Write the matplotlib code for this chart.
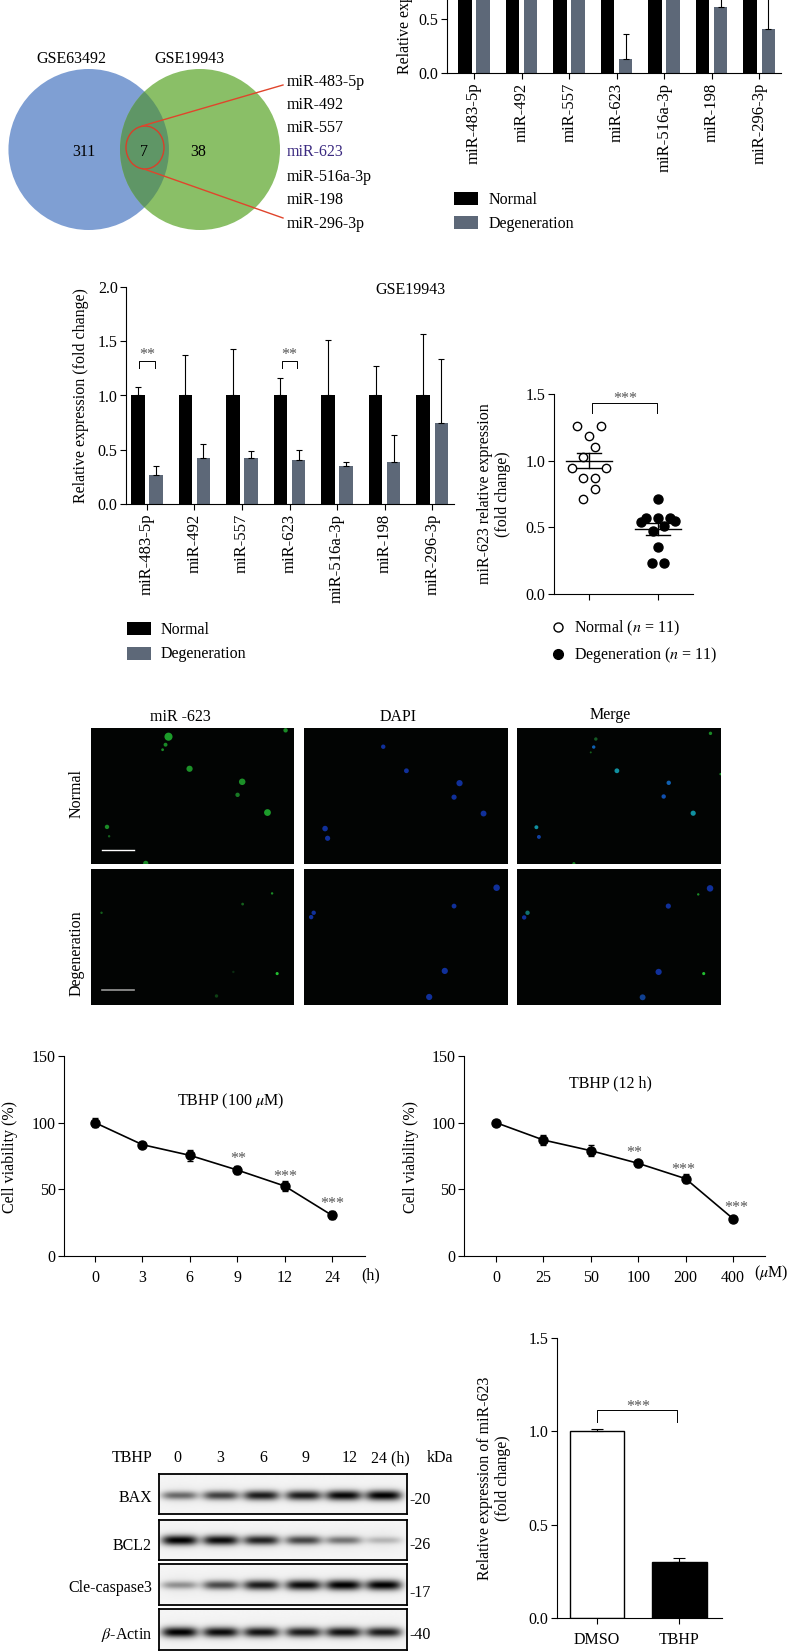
import numpy as np
import matplotlib
matplotlib.use('Agg')
import matplotlib.pyplot as plt
from matplotlib.patches import Ellipse, Rectangle

plt.rcParams['font.family'] = ['Liberation Serif', 'DejaVu Serif']
plt.rcParams['mathtext.fontset'] = 'stix'
plt.rcParams['font.size'] = 11.5
plt.rcParams['axes.linewidth'] = 0.8
plt.rcParams['xtick.major.width'] = 0.8
plt.rcParams['ytick.major.width'] = 0.8
plt.rcParams['xtick.major.size'] = 4
plt.rcParams['ytick.major.size'] = 4

W, H = 787, 1651
GREY = '#5D6878'

mirnas = ['miR-483-5p', 'miR-492', 'miR-557', 'miR-623', 'miR-516a-3p', 'miR-198', 'miR-296-3p']
venn_counts = ['311', '7', '38']

# top bars, cropped by the page: only the low part can be read
gse63492_normal = [1, 1, 1, 1, 1, 1, 1]
gse63492_normal_err = [0.2, 0.2, 0.2, 0.2, 0.2, 0.2, 0.2]
gse63492_degen = [0.8, 0.85, 0.75, 0.13, 0.9, 0.61, 0.41]
gse63492_degen_err = [0.2, 0.2, 0.2, 0.23, 0.2, 0.25, 0.6]

gse19943_normal = [1, 1, 1, 1, 1, 1, 1]
gse19943_normal_err = [0.08, 0.37, 0.43, 0.16, 0.51, 0.27, 0.57]
gse19943_degen = [0.27, 0.42, 0.42, 0.41, 0.35, 0.39, 0.75]
gse19943_degen_err = [0.08, 0.13, 0.07, 0.09, 0.04, 0.25, 0.59]

scatter_normal_x = [0.83, 1.18, 1.0, 1.09, 0.91, 0.75, 1.25, 0.91, 1.09, 1.09, 0.91]
scatter_normal_y = [1.26, 1.26, 1.185, 1.105, 1.025, 0.945, 0.945, 0.87, 0.87, 0.79, 0.71]
scatter_degen_x = [2.0, 1.83, 2.0, 2.18, 1.76, 2.25, 2.09, 1.93, 2.0, 1.92, 2.09]
scatter_degen_y = [0.71, 0.57, 0.57, 0.57, 0.54, 0.55, 0.51, 0.47, 0.35, 0.23, 0.23]
scatter_mean = [1.0, 0.485]
scatter_sem = [0.058, 0.045]

# microscope spots: x, y, size, colour
ni_green = [(234, 110, 34, '#1C9C2A'), (227, 134, 8, '#1A8A26'), (220, 149, 4, '#1A8A26'),
            (284, 206, 20, '#1C9028'), (409, 245, 22, '#1C9028'), (398, 284, 10, '#187A24'),
            (469, 337, 24, '#1C9C2A'), (88, 380, 10, '#1A8A26'), (93, 408, 3, '#14601C'),
            (512, 91, 10, '#1A8A26'), (180, 489, 14, '#1A8A26')]
ni_blue = [(744, 140, 10, '#10309A'), (799, 212, 12, '#10309A'), (925, 249, 20, '#10309A'),
           (912, 291, 14, '#10309A'), (982, 340, 18, '#10309A'), (606, 385, 16, '#10309A'),
           (612, 414, 14, '#10309A')]
ni_merge = [(1249, 117, 6, '#145A24'), (1521, 100, 6, '#1A8A26'), (1237, 157, 2, '#14601C'),
            (1545, 222, 3, '#1A8A26'), (1244, 141, 6, '#1060B0'), (1299, 212, 12, '#1090A0'),
            (1422, 248, 10, '#1060B0'), (1410, 289, 10, '#1050B0'), (1480, 339, 14, '#1090A0'),
            (1108, 381, 8, '#1090A0'), (1114, 410, 8, '#1040A0'), (1197, 490, 5, '#1A8A26')]
de_green = [(480, 580, 3, '#1A8A26'), (410, 612, 4, '#14601C'), (75, 638, 3, '#14601C'),
            (492, 820, 5, '#22C030'), (348, 887, 6, '#0E4014'), (388, 815, 3, '#0A2C10')]
de_blue = [(1013, 563, 22, '#10309A'), (912, 618, 12, '#10309A'), (579, 638, 10, '#10309A'),
           (573, 651, 10, '#10309A'), (890, 812, 20, '#10309A'), (853, 890, 20, '#10309A')]
de_merge = [(1520, 565, 22, '#10309A'), (1421, 618, 14, '#10309A'), (1079, 652, 10, '#10309A'),
            (1087, 638, 10, '#107070'), (1398, 815, 20, '#10309A'), (1360, 891, 18, '#104090'),
            (1492, 583, 3, '#1A8A26'), (1505, 820, 5, '#22C030')]

hours = ['0', '3', '6', '9', '12', '24']
viability_h = [100, 83.5, 75.5, 64.5, 52.5, 30.5]
viability_h_err = [3.5, 2, 4, 3, 3.5, 3]
doses = ['0', '25', '50', '100', '200', '400']
viability_d = [100, 87, 79, 69.5, 58, 28]
viability_d_err = [2, 3.5, 4, 2.5, 3.5, 1.5]

blot_names = ['BAX', 'BCL2', 'Cle-caspase3', r'$\beta$-Actin']
blot_kda = ['-20', '-26', '-17', '-40']
blot_bax = [0.55, 0.72, 0.88, 0.88, 0.97, 1.0]
blot_bcl2 = [1.0, 0.95, 0.85, 0.7, 0.5, 0.22]
blot_casp = [0.38, 0.68, 0.88, 0.95, 1.0, 1.0]
blot_actin = [1.0, 0.95, 0.92, 0.88, 0.92, 0.88]

dmso_tbhp = ['DMSO', 'TBHP']
mir623_expr = [1.0, 0.30]
mir623_err = [0.01, 0.02]

fig = plt.figure(figsize=(W / 100, H / 100), dpi=100)


def px_axes(x0, x1, ytop, ybot):
    ax = fig.add_axes([x0 / W, 1 - ybot / H, (x1 - x0) / W, (ybot - ytop) / H])
    ax.spines['top'].set_visible(False)
    ax.spines['right'].set_visible(False)
    ax.patch.set_alpha(0)
    return ax


# overlay in picture pixels, for the free text and the venn
ov = fig.add_axes([0, 0, 1, 1], zorder=5)
ov.set_xlim(0, W)
ov.set_ylim(H, 0)
ov.axis('off')


def label(x, y, s, **kw):
    kw.setdefault('ha', 'center')
    kw.setdefault('va', 'center')
    ov.text(x, y, s, **kw)


def stars(x, y, s):
    label(x, y + 3, s, color='#555555', fontsize=11.5)


def bar_legend(x0, x1, y1, y2, xt):
    for y, c, s in ((y1, 'black', 'Normal'), (y2, GREY, 'Degeneration')):
        ov.add_patch(Rectangle((x0, y - 6.5), x1 - x0, 13, color=c, lw=0))
        label(xt, y + 1, s, ha='left')


def group_bars(ax, normal, nerr, degen, derr):
    x = np.arange(len(mirnas))
    ax.bar(x - 0.19, normal, 0.28, color='black', yerr=[np.zeros(7), nerr],
           error_kw=dict(ecolor='black', elinewidth=0.8, capsize=2, capthick=0.8))
    ax.bar(x + 0.19, degen, 0.28, color=GREY, yerr=[np.zeros(7), derr],
           error_kw=dict(ecolor='black', elinewidth=0.8, capsize=2, capthick=0.8))
    ax.set_xticks(x)
    ax.set_xticklabels(mirnas, rotation=90, fontsize=12)
    ax.set_yticks([0, 0.5, 1.0, 1.5, 2.0])
    ax.set_yticklabels(['0.0', '0.5', '1.0', '1.5', '2.0'])
    ax.set_ylim(0, 2)
    ax.tick_params(axis='x', pad=3)
    ax.tick_params(axis='y', pad=2)


#=========================
# venn
#=========================
blue = Ellipse((88.7, 149.5), 160.5, 161, color='#7F9FD3', lw=0)
green = Ellipse((200, 149.5), 160, 161, color='#8ABF67', lw=0)
ov.add_patch(blue)
ov.add_patch(green)
lens = Ellipse((200, 149.5), 160, 161, color='#5F9666', lw=0)
ov.add_patch(lens)
lens.set_clip_path(blue)
ov.add_patch(Ellipse((145, 147.5), 38, 43, fill=False, ec='#D8402A', lw=1))
ov.plot([142, 283], [126, 85], color='#E0452C', lw=1)
ov.plot([144, 283], [169, 218], color='#E0452C', lw=1)
label(71, 59, 'GSE63492')
label(189, 59, 'GSE19943')
for x, s in zip((84, 144, 198), venn_counts):
    label(x, 152, s, color='black')
for y, s in zip((82, 105, 128, 152, 177, 200, 224), mirnas):
    label(287, y, s, ha='left', color='#3B2A80' if s == 'miR-623' else 'black')

#=========================
# GSE63492 bars, top is off the page
#=========================
ax1 = px_axes(447, 781, 73 - 216, 73)
group_bars(ax1, gse63492_normal, gse63492_normal_err, gse63492_degen, gse63492_degen_err)
ax1.set_xlim(-0.57, 6.46)
ax1.set_yticks([0, 0.5])
ax1.set_yticklabels(['0.0', '0.5'])
label(405, 74, 'Relative expression (fold change)', rotation=90, va='bottom')
bar_legend(454, 478, 198.5, 223, 489)

#=========================
# GSE19943 bars
#=========================
ax2 = px_axes(126, 454, 287, 504)
group_bars(ax2, gse19943_normal, gse19943_normal_err, gse19943_degen, gse19943_degen_err)
ax2.set_xlim(-0.44, 6.46)
ax2.set_ylabel('Relative expression (fold change)', labelpad=6)
for i in (0, 3):
    ax2.plot([i - 0.16, i - 0.16, i + 0.16, i + 0.16], [1.25, 1.32, 1.32, 1.25], color='black', lw=0.7)
    ax2.text(i, 1.37, '**', ha='center', va='center', color='#555555')
label(410.5, 290, 'GSE19943')
bar_legend(126.5, 151, 629, 653.5, 161)

#=========================
# scatter
#=========================
ax3 = px_axes(554, 693, 394, 594)
ax3.plot(scatter_normal_x, scatter_normal_y, 'o', mfc='white', mec='black', mew=1, ms=6)
ax3.plot(scatter_degen_x, scatter_degen_y, 'o', color='black', ms=6.5)
for i in range(2):
    ax3.plot([i + 0.67, i + 1.33], [scatter_mean[i]] * 2, color='black', lw=1)
    for v in (scatter_mean[i] + scatter_sem[i], scatter_mean[i] - scatter_sem[i]):
        ax3.plot([i + 0.83, i + 1.17], [v, v], color='black', lw=1)
    ax3.plot([i + 1, i + 1], [scatter_mean[i] - scatter_sem[i], scatter_mean[i] + scatter_sem[i]], color='black', lw=1)
ax3.plot([1.04, 1.04, 1.98, 1.98], [1.355, 1.43, 1.43, 1.355], color='black', lw=0.7)
ax3.text(1.53, 1.465, '***', ha='center', va='center', color='#555555')
ax3.set_xlim(0.493, 2.507)
ax3.set_ylim(0, 1.5)
ax3.set_xticks([1, 2])
ax3.set_xticklabels([])
ax3.set_yticks([0, 0.5, 1.0, 1.5])
ax3.set_yticklabels(['0.0', '0.5', '1.0', '1.5'])
ax3.tick_params(axis='y', pad=2)
label(494, 494, 'miR-623 relative expression\n(fold change)', rotation=90, ma='center', linespacing=1.1)
ov.plot([558], [627], 'o', mfc='white', mec='black', mew=1, ms=6.5)
ov.plot([558], [654], 'o', color='black', ms=7)
label(574.5, 628, r'Normal ($n$ = 11)', ha='left')
label(574.5, 655, r'Degeneration ($n$ = 11)', ha='left')

#=========================
# micrographs
#=========================
panels = [((91, 294, 728, 864), (50, 532, 491, 84), ni_green),
          ((304, 508, 728, 864), (556, 1040, 491, 84), ni_blue),
          ((517, 721, 728, 864), (1062, 1546, 491, 84), ni_merge),
          ((91, 294, 869, 1005), (50, 532, 914, 507), de_green),
          ((304, 508, 869, 1005), (556, 1040, 914, 507), de_blue),
          ((517, 721, 869, 1005), (1062, 1546, 914, 507), de_merge)]
for box, lims, spots in panels:
    a = fig.add_axes([box[0] / W, 1 - box[3] / H, (box[1] - box[0]) / W, (box[3] - box[2]) / H])
    a.set_facecolor('#020403')
    a.set_xlim(lims[0], lims[1])
    a.set_ylim(lims[2], lims[3])
    a.set_xticks([])
    a.set_yticks([])
    for s in a.spines.values():
        s.set_visible(False)
    a.scatter([p[0] for p in spots], [p[1] for p in spots], s=[p[2] for p in spots],
              c=[p[3] for p in spots], lw=0)
    if lims[3] == 84:
        a.plot([75, 152], [448, 448], color='white', lw=1)
    elif lims[0] == 50:
        a.plot([75, 152], [869, 869], color='#999999', lw=1.2)
label(180, 717, 'miR -623')
label(398, 717, 'DAPI')
label(610, 715, 'Merge')
label(77, 793, 'Normal', rotation=90)
label(77, 953, 'Degeneration', rotation=90)


#=========================
# viability lines
#=========================
def viability(box, labels, vals, errs, xleft, xright):
    ax = px_axes(*box)
    ax.errorbar(range(6), vals, yerr=errs, fmt='-o', color='black', lw=1.2, ms=6.5,
                elinewidth=1, capsize=2.5, capthick=1)
    ax.set_xlim(xleft, xright)
    ax.set_ylim(0, 150)
    ax.set_xticks(range(6))
    ax.set_xticklabels(labels)
    ax.set_yticks([0, 50, 100, 150])
    ax.tick_params(axis='x', pad=6)
    ax.tick_params(axis='y', pad=2)
    return ax


viability((64, 365, 1056, 1256), hours, viability_h, viability_h_err, -0.654, 5.696)
label(10, 1157, 'Cell viability (%)', rotation=90)
label(231, 1101, r'TBHP (100 $\mu$M)')
label(371, 1275, '(h)')
for x, y, s in ((238, 1156, '**'), (285, 1174, '***'), (332, 1201, '***')):
    stars(x, y, s)

viability((464, 765, 1056, 1256), doses, viability_d, viability_d_err, -0.675, 5.675)
label(411, 1157, 'Cell viability (%)', rotation=90)
label(610, 1083, 'TBHP (12 h)')
label(771, 1273, r'($\mu$M)')
for x, y, s in ((634, 1150, '**'), (683, 1167, '***'), (736, 1205, '***')):
    stars(x, y, s)

#=========================
# western blot
#=========================
blot_boxes = [(1474, 1514, 0.53), (1520, 1560, 0.5), (1564, 1605, 0.52), (1609, 1650, 0.57)]
blot_rows = [blot_bax, blot_bcl2, blot_casp, blot_actin]
lanes_px = [179.5, 220.5, 261, 303, 343, 383]
for (ytop, ybot, frac), row in zip(blot_boxes, blot_rows):
    a = fig.add_axes([159 / W, 1 - ybot / H, 247.5 / W, (ybot - ytop) / H])
    xx, yy = np.meshgrid(np.arange(159, 406.5, 0.5), np.arange(0, ybot - ytop, 0.5))
    img = np.full(xx.shape, 0.96)
    yc = frac * (ybot - ytop)
    for lane, amt in zip(lanes_px, row):
        img -= 0.92 * amt * np.exp(-((xx - lane) / 18) ** 4) * np.exp(-((yy - yc) / (3 + 2 * amt)) ** 2)
        img -= 0.05 * np.exp(-((xx - lane) / 20) ** 2) * np.exp(-((yy - yc) / 10) ** 2)
    a.imshow(img, cmap='gray', vmin=0, vmax=1, aspect='auto', interpolation='bilinear')
    a.set_xticks([])
    a.set_yticks([])
    for s in a.spines.values():
        s.set_linewidth(1.3)
label(132, 1458, 'TBHP')
for x, s in zip((177.5, 220, 263, 306, 350), hours):
    label(x, 1458, s)
label(390, 1458, '24 (h)')
label(440, 1458, 'kDa')
for y, s in zip((1498, 1546, 1588, 1635), blot_names):
    label(152, y, s, ha='right')
for y, s in zip((1500, 1545, 1593, 1635), blot_kda):
    label(409, y, s, ha='left')

#=========================
# miR-623 after TBHP
#=========================
ax6 = px_axes(557, 722, 1338, 1618)
ax6.bar(0, mir623_expr[0], 0.67, color='white', ec='black', lw=1, yerr=[[0], [mir623_err[0]]],
        error_kw=dict(ecolor='black', elinewidth=0.8, capsize=4, capthick=0.8))
ax6.bar(1, mir623_expr[1], 0.67, color='black', ec='black', lw=1, yerr=[[0], [mir623_err[1]]],
        error_kw=dict(ecolor='black', elinewidth=0.8, capsize=4, capthick=0.8))
ax6.plot([0, 0, 0.98, 0.98], [1.05, 1.113, 1.113, 1.05], color='black', lw=0.7)
ax6.text(0.5, 1.13, '***', ha='center', va='center', color='#555555')
ax6.set_xlim(-0.488, 1.524)
ax6.set_ylim(0, 1.5)
ax6.set_xticks([0, 1])
ax6.set_xticklabels(dmso_tbhp)
ax6.set_yticks([0, 0.5, 1.0, 1.5])
ax6.set_yticklabels(['0.0', '0.5', '1.0', '1.5'])
ax6.tick_params(axis='x', pad=6)
ax6.tick_params(axis='y', pad=2)
label(494, 1478, 'Relative expression of miR-623\n(fold change)', rotation=90, ma='center', linespacing=1.1)

plt.savefig('out.png', dpi=100)
